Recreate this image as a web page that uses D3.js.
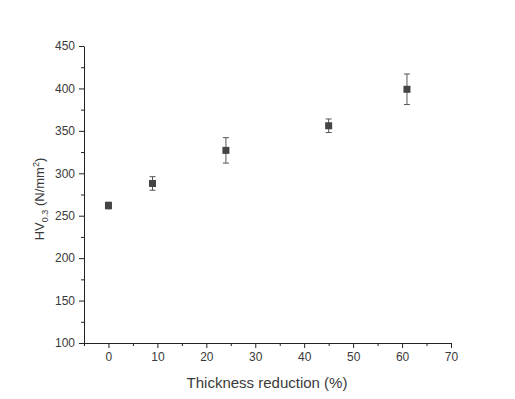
<!DOCTYPE html>
<html>
<head>
<meta charset="utf-8">
<script src="https://cdn.jsdelivr.net/npm/d3@7"></script>
<style>
  body { margin: 0; background: #fff; }
  text { font-family: "Liberation Sans", Arial, sans-serif; }
</style>
</head>
<body>
<svg></svg>
<script>
var width = 515,
    height = 399;

// data
var reduction = [0, 9, 24, 45, 61];
var hardness = [262, 288, 327, 356, 399];
var errors = [4, 8, 15, 8, 18];
var xTicks = [0, 10, 20, 30, 40, 50, 60, 70];
var yTicks = [100, 150, 200, 250, 300, 350, 400, 450];

var svg = d3.select("svg")
    .attr("width", width)
    .attr("height", height);

var x = d3.scaleLinear().domain([-5, 70]).range([84, 451]);
var y = d3.scaleLinear().domain([100, 450]).range([343, 46]);

var textColor = "#3a3a3a";

//x axis
svg.append("g")
  .attr("transform", "translate(0," + y(100) + ")")
  .call(d3.axisBottom(x).tickValues(xTicks).tickSize(5).tickPadding(4).tickSizeOuter(0));

svg.append("g")
  .attr("transform", "translate(0," + y(100) + ")")
  .call(d3.axisBottom(x).tickValues(d3.range(-5, 70, 10)).tickSize(3).tickFormat("").tickSizeOuter(0))
  .select(".domain").remove();

//y axis
svg.append("g")
  .attr("transform", "translate(" + x(-5) + ",0)")
  .call(d3.axisLeft(y).tickValues(yTicks).tickSize(5).tickPadding(4).tickSizeOuter(0));

svg.append("g")
  .attr("transform", "translate(" + x(-5) + ",0)")
  .call(d3.axisLeft(y).tickValues(d3.range(125, 450, 50)).tickSize(3).tickFormat("").tickSizeOuter(0))
  .select(".domain").remove();

svg.selectAll(".domain, .tick line").attr("stroke", "#222").attr("stroke-width", 1);
svg.selectAll(".tick text")
  .attr("fill", textColor)
  .style("font-size", "12px");

//axis titles
svg.append("text")
  .attr("x", 267)
  .attr("y", 388)
  .attr("text-anchor", "middle")
  .attr("fill", textColor)
  .style("font-size", "15px")
  .text("Thickness reduction (%)");

var yTitle = svg.append("text")
  .attr("transform", "translate(44,199) rotate(-90)")
  .attr("text-anchor", "middle")
  .attr("fill", textColor)
  .style("font-size", "13px");
yTitle.append("tspan").text("HV");
yTitle.append("tspan").attr("dy", 4).style("font-size", "9px").text("0.3");
yTitle.append("tspan").attr("dy", -4).text(" (N/mm");
yTitle.append("tspan").attr("dy", -5).style("font-size", "9px").text("2");
yTitle.append("tspan").attr("dy", 5).text(")");

//points with error bars
var pts = reduction.map(function(d, i) {
  return { x: d, y: hardness[i], e: errors[i] };
});

var pt = svg.append("g").selectAll("g")
    .data(pts)
  .enter().append("g");

pt.append("line")
  .attr("x1", function(d) { return x(d.x); })
  .attr("x2", function(d) { return x(d.x); })
  .attr("y1", function(d) { return y(d.y + d.e); })
  .attr("y2", function(d) { return y(d.y - d.e); })
  .attr("stroke", "#555");

[1, -1].forEach(function(s) {
  pt.append("line")
    .attr("x1", function(d) { return x(d.x) - 3; })
    .attr("x2", function(d) { return x(d.x) + 3; })
    .attr("y1", function(d) { return y(d.y + s * d.e); })
    .attr("y2", function(d) { return y(d.y + s * d.e); })
    .attr("stroke", "#555");
});

pt.append("rect")
  .attr("x", function(d) { return x(d.x) - 3.5; })
  .attr("y", function(d) { return y(d.y) - 3.5; })
  .attr("width", 7)
  .attr("height", 7)
  .attr("fill", "#444");
</script>
</body>
</html>
